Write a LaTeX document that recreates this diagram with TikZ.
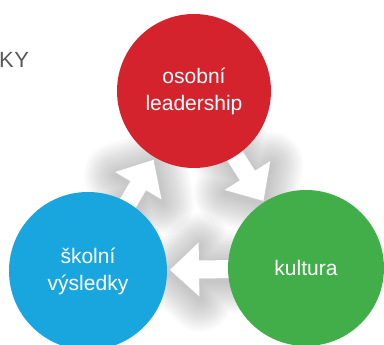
\documentclass[tikz,border=0pt]{standalone}
\usepackage{fontspec}
\setmainfont{Liberation Sans}
\definecolor{cred}{HTML}{D5232E}
\definecolor{cblue}{HTML}{19A6DF}
\definecolor{cgreen}{HTML}{41AE4A}
\definecolor{kygray}{HTML}{58595B}
\newcommand\arrowshadow[4]{%
  \begin{scope}[shift={($(#1)+(1,-3)$)}, rotate=#2]
    \foreach \w in {64,60,...,4}
      \draw[black, opacity=0.015, line width=\w pt, line join=round]
        (40,-9) -- (#3,-9) -- (#3,-27) -- (#4,0) -- (#3,27) -- (#3,9) -- (40,9) -- cycle;
  \end{scope}}
\newcommand\arrowbody[4]{%
  \begin{scope}[shift={(#1)}, rotate=#2]
    \fill[white] (40,-9) -- (#3,-9) -- (#3,-27) -- (#4,0) -- (#3,27) -- (#3,9) -- (40,9) -- cycle;
  \end{scope}}
\usetikzlibrary{calc}
\begin{document}
\begin{tikzpicture}[x=1pt,y=1pt,
  bubble/.style={circle, inner sep=0pt, text=white, align=center,
    font=\fontsize{21}{27}\selectfont}]
\useasboundingbox (0,0) rectangle (384,345);
\coordinate (pR) at (194,254);
\coordinate (pB) at (88,74);
\coordinate (pG) at (306,77);
\node[anchor=base west, text=kygray, inner sep=0pt,
  font=\fontsize{22}{22}\selectfont] (title) at (-1,277) {K\kern0.5pt Y};
\arrowshadow{pB}{59.5}{99}{129}
\arrowshadow{pR}{-57.7}{100}{130}
\arrowshadow{pG}{180.8}{107}{136}
\arrowbody{pB}{59.5}{99}{129}
\arrowbody{pR}{-57.7}{100}{130}
\arrowbody{pG}{180.8}{107}{136}
\node[bubble, fill=cred, minimum size=154pt] (red) at (pR) {osobní\\leadership};
\node[bubble, fill=cblue, minimum size=158pt] (blue) at (pB) {školní\\výsledky};
\node[bubble, fill=cgreen, minimum size=156pt] (green) at (pG) {kultura};
\end{tikzpicture}
\end{document}
